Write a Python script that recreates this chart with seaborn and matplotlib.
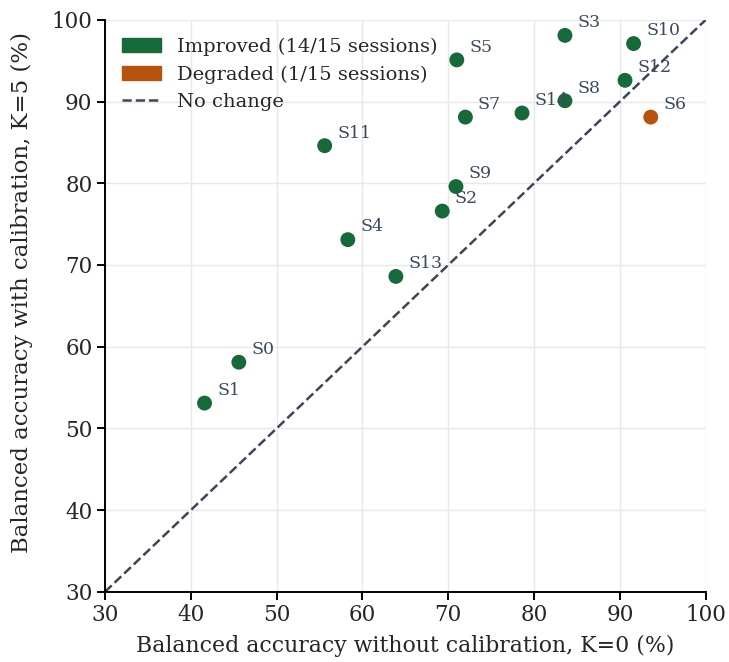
import matplotlib
matplotlib.use("Agg")
import matplotlib.pyplot as plt
import seaborn as sns
import pandas as pd
from matplotlib.patches import Patch
from matplotlib.lines import Line2D

sessions = ["S0", "S1", "S2", "S3", "S4", "S5", "S6", "S7",
            "S8", "S9", "S10", "S11", "S12", "S13", "S14"]
acc_k0 = [45.6, 41.6, 69.3, 83.6, 58.3, 71.0, 93.6, 72.0,
          83.6, 70.9, 91.6, 55.6, 90.6, 63.9, 78.6]
acc_k5 = [58.1, 53.1, 76.6, 98.1, 73.1, 95.1, 88.1, 88.1,
          90.1, 79.6, 97.1, 84.6, 92.6, 68.6, 88.6]

GREEN = "#17693a"
ORANGE = "#b5530f"
LINE = "#3d4556"
TEXT = "#3a4a5c"

df = pd.DataFrame({"session": sessions, "k0": acc_k0, "k5": acc_k5})
df["status"] = ["Improved" if b > a else "Degraded" for a, b in zip(df.k0, df.k5)]
n_imp = (df.status == "Improved").sum()
n_deg = (df.status == "Degraded").sum()
n = len(df)

sns.set_theme(style="whitegrid")
plt.rcParams["font.family"] = ["DejaVu Serif"]

fig, ax = plt.subplots(figsize=(7.29, 6.62), dpi=100)
ax.plot([30, 100], [30, 100], ls="--", color=LINE, lw=1.8, zorder=2)
sns.scatterplot(data=df, x="k0", y="k5", hue="status",
                palette={"Improved": GREEN, "Degraded": ORANGE},
                s=115, edgecolor="none", legend=False, ax=ax, zorder=3)

for _, r in df.iterrows():
    ax.annotate(r.session, (r.k0, r.k5), xytext=(9, 3), textcoords="offset points",
                ha="left", va="bottom", fontsize=12.5, color=TEXT)

ax.set_xlim(30, 100)
ax.set_ylim(30, 100)
ax.set_xticks(range(30, 101, 10))
ax.set_yticks(range(30, 101, 10))
ax.tick_params(labelsize=15.5, length=6, width=1.4, color="black",
               bottom=True, left=True, pad=3)
ax.grid(True, color="#e8e8e8", lw=1)
ax.set_facecolor("white")
for s in ["top", "right"]:
    ax.spines[s].set_visible(False)
for s in ["left", "bottom"]:
    ax.spines[s].set_color("black")
    ax.spines[s].set_linewidth(1.4)

ax.set_xlabel("Balanced accuracy without calibration, K=0 (%)", fontsize=15.8, labelpad=6)
ax.set_ylabel("Balanced accuracy with calibration, K=5 (%)", fontsize=16.5)
ax.yaxis.set_label_coords(-0.12, 0.523)

handles = [Patch(color=GREEN, label=f"Improved ({n_imp}/{n} sessions)"),
           Patch(color=ORANGE, label=f"Degraded ({n_deg}/{n} sessions)"),
           Line2D([0], [0], ls="--", color=LINE, lw=1.8, label="No change")]
ax.legend(handles=handles, loc="upper left", frameon=False, fontsize=14,
          borderaxespad=0.5)

fig.subplots_adjust(left=0.144, right=0.968, top=0.97, bottom=0.106)
fig.savefig("out.png", dpi=100)
